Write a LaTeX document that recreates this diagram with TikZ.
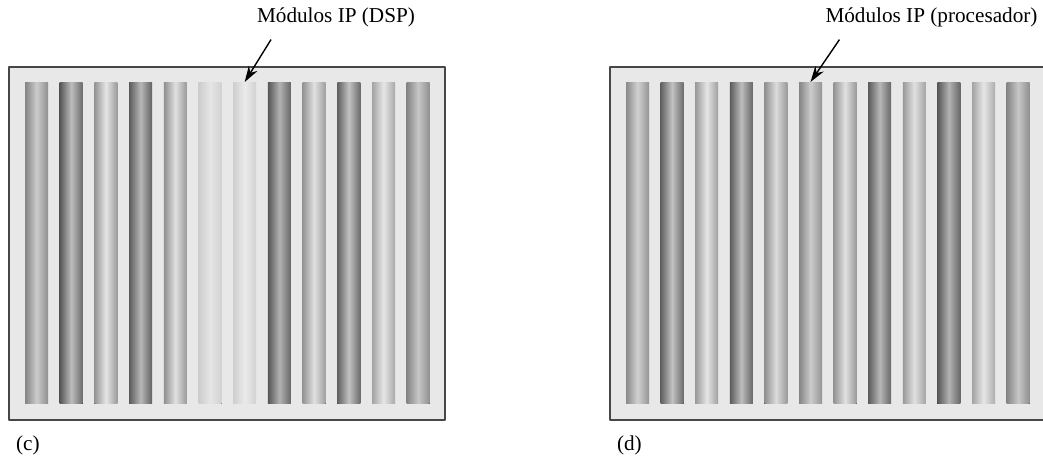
\documentclass[tikz,border=0pt]{standalone}
\usepackage{fontspec}
\setmainfont{Liberation Serif}
\usetikzlibrary{arrows.meta}
\tikzset{
  panel/.style={draw=black!72,fill=black!9,line width=0.65pt},
  pointer/.style={->,line width=0.7pt},
}
\begin{document}
\begin{tikzpicture}[x=0.5pt,y=-0.5pt,>={Stealth[length=8pt,width=5pt]},font=\fontsize{10.6}{12}\selectfont,line join=round]
	\useasboundingbox (0,0) rectangle (1043,458);
	% (c) DSP
	\draw[panel] (9,67) rectangle (445,420);
	\foreach \l/\m/\r [count=\i from 1] in {48/20/44,66/26/58,42/10/40,64/28/62,44/12/40,20/10/18,19/8/18,66/30/60,42/12/38,62/24/58,36/10/34,48/22/44}
	{\fill[left color=black!\l,right color=black!\r,middle color=black!\m] ({25+34.7*(\i-1)},83) rectangle +(23,321);
	 \coordinate (c\i) at ({36.5+34.7*(\i-1)},82);}
	\node[anchor=base] (dsp) at (336,23) {Módulos IP (DSP)};
	\draw[pointer] ([shift={(21,5)}]dsp.south west) -- (c7);
	\node[anchor=base west] (capc) at (9,451) {(c)};
	% (d) procesador
	\draw[panel] (610,67) rectangle (1046,420);
	\foreach \l/\m/\r [count=\i from 1] in {46/18/42,62/24/58,40/10/38,64/26/60,44/14/40,48/20/42,42/12/40,64/28/60,40/12/36,66/30/60,36/10/32,48/22/44}
	{\fill[left color=black!\l,right color=black!\r,middle color=black!\m] ({626+34.6*(\i-1)},83) rectangle +(23,321);
	 \coordinate (d\i) at ({637.5+34.6*(\i-1)},82);}
	\node[anchor=base] (proc) at (931.5,23) {Módulos IP (procesador)};
	\draw[pointer] ([shift={(21,5)}]proc.south west) -- (d6);
	\node[anchor=base west] (capd) at (610,451) {(d)};
\end{tikzpicture}
\end{document}
